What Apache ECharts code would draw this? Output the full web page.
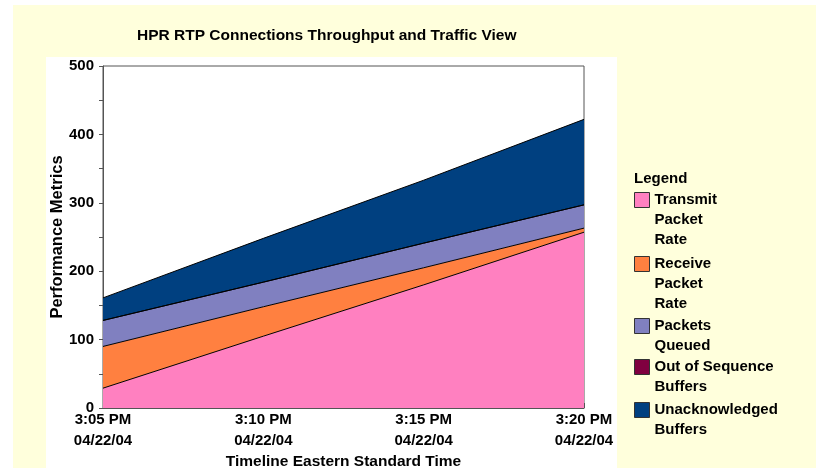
<!DOCTYPE html>
<html>
<head>
<meta charset="utf-8">
<script src="https://cdn.jsdelivr.net/npm/echarts@6/dist/echarts.min.js"></script>
<style>
html, body { margin: 0; padding: 0; background: #fff; }
#chart { width: 816px; height: 471px; }
</style>
</head>
<body>
<div id="chart"></div>
<script>
const timeLabels = ['3:05 PM', '3:10 PM', '3:15 PM', '3:20 PM']
const dateLabels = ['04/22/04', '04/22/04', '04/22/04', '04/22/04']
const transmitRate = [29, 105, 180, 257]
const receiveRate = [61, 43, 25, 6]
const packetsQueued = [38, 36, 36, 34]
const outOfSequence = [0, 0, 0, 0]
const unackBuffers = [33, 64, 92, 125]
const seriesNames = ['Transmit Packet Rate', 'Receive Packet Rate', 'Packets Queued', 'Out of Sequence Buffers', 'Unacknowledged Buffers']
const legendLines = [
  ['Transmit', 'Packet', 'Rate'],
  ['Receive', 'Packet', 'Rate'],
  ['Packets', 'Queued'],
  ['Out of Sequence', 'Buffers'],
  ['Unacknowledged', 'Buffers']
]
const colors = ['#ff80c0', '#ff8040', '#8080c0', '#800040', '#004080']
const values = [transmitRate, receiveRate, packetsQueued, outOfSequence, unackBuffers]

const font = { fontFamily: 'Liberation Sans, Arial, sans-serif', fontWeight: 'bold', fontSize: 15, color: '#000' }
const lineH = 20
// y of the first text line of each legend entry
const legendRowY = [200, 264, 326, 367, 410]

const chart = echarts.init(document.getElementById('chart'))

// one legend per entry so the box sits next to the first line of wrapped text
// (blank lines on top keep the first line centered on the icon)
const legends = seriesNames.map((n, i) => {
  const lines = legendLines[i]
  const blank = new Array(lines.length - 1).fill('')
  return {
    orient: 'vertical',
    left: 634,
    top: legendRowY[i] - (2 * lines.length - 1) * lineH / 2,
    padding: 0,
    icon: 'rect',
    itemWidth: 15,
    itemHeight: 15,
    itemStyle: { borderColor: '#333', borderWidth: 1 },
    textStyle: { ...font, lineHeight: lineH },
    data: [n],
    formatter: () => blank.concat(lines).join('\n'),
    selectedMode: false
  }
})

const option = {
  animation: false,
  graphic: [
    { type: 'rect', z: -10, shape: { x: 13, y: 5, width: 803, height: 463 }, style: { fill: '#ffffdc' } },
    { type: 'rect', z: -9, shape: { x: 46, y: 57, width: 571, height: 411 }, style: { fill: '#ffffff' } }
  ],
  title: [
    { text: 'HPR RTP Connections Throughput and Traffic View', left: 137, top: 28, padding: 0, textStyle: { ...font, fontSize: 15.5 } },
    { text: 'Legend', left: 634, top: 171, padding: 0, textStyle: font }
  ],
  legend: legends,
  grid: {
    left: 103,
    right: 232,
    top: 66,
    bottom: 63,
    outerBoundsMode: 'none',
    show: true,
    borderColor: '#555',
    borderWidth: 1,
    backgroundColor: 'transparent'
  },
  xAxis: {
    type: 'category',
    data: timeLabels,
    boundaryGap: false,
    name: 'Timeline Eastern Standard Time',
    nameLocation: 'middle',
    nameGap: 46,
    nameMoveOverlap: false,
    nameTextStyle: { ...font, fontSize: 15.5 },
    axisLine: { lineStyle: { color: '#555' } },
    axisTick: { inside: true, length: 5, lineStyle: { color: '#555' } },
    axisLabel: {
      ...font,
      lineHeight: 21,
      margin: 1,
      formatter: (v, i) => timeLabels[i] + '\n' + dateLabels[i]
    },
    splitLine: { show: false }
  },
  yAxis: {
    type: 'value',
    min: 0,
    max: 500,
    interval: 100,
    name: 'Performance Metrics',
    nameLocation: 'middle',
    nameGap: 37,
    nameMoveOverlap: false,
    nameTextStyle: { ...font, fontSize: 16.5 },
    axisLine: { show: true, lineStyle: { color: '#555' } },
    axisTick: { show: true, length: 4, lineStyle: { color: '#555' } },
    minorTick: { show: true, splitNumber: 2, length: 4, lineStyle: { color: '#555' } },
    axisLabel: { ...font, margin: 9 },
    splitLine: { show: false }
  },
  series: seriesNames.map((n, i) => ({
    name: n,
    type: 'line',
    stack: 'total',
    data: values[i],
    symbol: 'none',
    lineStyle: { color: '#000', width: 1 },
    itemStyle: { color: colors[i] },
    areaStyle: { color: colors[i], opacity: 1 },
    emphasis: { disabled: true }
  }))
}

chart.setOption(option)
</script>
</body>
</html>
